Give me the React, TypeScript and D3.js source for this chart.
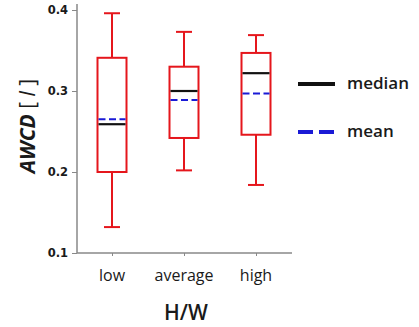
import React, { useEffect, useRef } from 'react';
import * as d3 from 'd3';

const categories = ['low', 'average', 'high'];
const whiskerLow = [0.132, 0.202, 0.184];
const q1 = [0.2, 0.242, 0.246];
const medians = [0.259, 0.3, 0.322];
const means = [0.265, 0.289, 0.297];
const q3 = [0.341, 0.33, 0.347];
const whiskerHigh = [0.396, 0.373, 0.369];
const yTicks = [0.1, 0.2, 0.3, 0.4];

const App = () => {
  const ref = useRef<SVGSVGElement>(null);

  useEffect(() => {
    const svg = d3.select(ref.current);
    svg.selectAll('*').remove();

    const left = 77, right = 292, top = 10, bottom = 253;

    const x = d3.scalePoint<string>()
      .domain(categories)
      .range([112, 256]);

    const y = d3.scaleLinear()
      .domain([0.1, 0.4])
      .range([bottom, top]);

    const boxW = 29, capW = 16;
    const red = '#e5161c';

    // axes
    const yAxis = svg.append('g')
      .attr('transform', `translate(${left},0)`)
      .call(d3.axisLeft(y).tickValues(yTicks).tickFormat(d3.format('.1f')).tickSize(5).tickSizeOuter(0).tickPadding(4));
    yAxis.select('.domain').attr('stroke', '#888').attr('stroke-width', 1.5).attr('d', `M0,${bottom}V4`);
    yAxis.selectAll('.tick line').attr('stroke', '#888');
    yAxis.selectAll('.tick text')
      .attr('font-family', 'DejaVu Sans')
      .attr('font-weight', 'bold')
      .attr('font-size', 11.5)
      .attr('fill', '#1a1a1a');

    const xAxis = svg.append('g')
      .attr('transform', `translate(0,${bottom})`)
      .call(d3.axisBottom(x).tickSize(3).tickSizeOuter(0).tickFormat(() => ''));
    xAxis.select('.domain').attr('stroke', '#888').attr('stroke-width', 1.5).attr('d', `M${left},0H${right}`);
    xAxis.selectAll('.tick line').attr('stroke', '#888');

    svg.append('g')
      .selectAll('text')
      .data(categories)
      .join('text')
      .attr('x', d => x(d)!)
      .attr('y', 281)
      .attr('text-anchor', 'middle')
      .attr('font-family', 'Open Sans')
      .attr('font-size', 16)
      .attr('fill', '#1a1a1a')
      .text(d => d);

    svg.append('text')
      .attr('x', 186)
      .attr('y', 320)
      .attr('text-anchor', 'middle')
      .attr('font-family', 'Open Sans')
      .attr('font-weight', 600)
      .attr('font-size', 21)
      .attr('fill', '#1a1a1a')
      .text('H/W');

    const yl = svg.append('text')
      .attr('transform', 'translate(35,126) rotate(-90)')
      .attr('text-anchor', 'middle')
      .attr('font-family', 'Open Sans')
      .attr('font-size', 21)
      .attr('fill', '#1a1a1a');
    yl.append('tspan').attr('font-style', 'italic').attr('font-weight', 'bold').text('AWCD');
    yl.append('tspan').text(' [ ');
    yl.append('tspan').attr('font-style', 'italic').text('l');
    yl.append('tspan').text(' ]');

    // boxes
    const g = svg.append('g');
    categories.forEach((c, i) => {
      const cx = x(c)!;
      g.append('line')
        .attr('x1', cx).attr('x2', cx)
        .attr('y1', y(whiskerHigh[i])).attr('y2', y(q3[i]))
        .attr('stroke', red).attr('stroke-width', 2);
      g.append('line')
        .attr('x1', cx).attr('x2', cx)
        .attr('y1', y(q1[i])).attr('y2', y(whiskerLow[i]))
        .attr('stroke', red).attr('stroke-width', 2);
      [whiskerHigh[i], whiskerLow[i]].forEach(v => {
        g.append('line')
          .attr('x1', cx - capW / 2).attr('x2', cx + capW / 2)
          .attr('y1', y(v)).attr('y2', y(v))
          .attr('stroke', red).attr('stroke-width', 2);
      });
      g.append('rect')
        .attr('x', cx - boxW / 2)
        .attr('y', y(q3[i]))
        .attr('width', boxW)
        .attr('height', y(q1[i]) - y(q3[i]))
        .attr('fill', 'none')
        .attr('stroke', red)
        .attr('stroke-width', 2);
      g.append('line')
        .attr('x1', cx - boxW / 2 + 1).attr('x2', cx + boxW / 2 - 1)
        .attr('y1', y(medians[i])).attr('y2', y(medians[i]))
        .attr('stroke', '#111').attr('stroke-width', 2.2);
      g.append('line')
        .attr('x1', cx - boxW / 2 + 1).attr('x2', cx + boxW / 2 - 1)
        .attr('y1', y(means[i])).attr('y2', y(means[i]))
        .attr('stroke', '#1a1ad6').attr('stroke-width', 2)
        .attr('stroke-dasharray', '7,3.5');
    });

    // legend
    const legend = svg.append('g');
    const items = [
      { label: 'median', color: '#111', dash: null, yy: 84 },
      { label: 'mean', color: '#1a1ad6', dash: '15,6', yy: 132 },
    ];
    items.forEach(it => {
      legend.append('line')
        .attr('x1', 298).attr('x2', 335)
        .attr('y1', it.yy).attr('y2', it.yy)
        .attr('stroke', it.color)
        .attr('stroke-width', 4)
        .attr('stroke-dasharray', it.dash);
      legend.append('text')
        .attr('x', 347)
        .attr('y', it.yy + 5)
        .attr('font-family', 'Open Sans')
        .attr('font-weight', 600)
        .attr('font-size', 17)
        .attr('fill', '#1a1a1a')
        .text(it.label);
    });
  }, []);

  return (
    <svg ref={ref} width={419} height={327}
      style={{ position: 'absolute', left: 0, top: 0, background: '#fff' }} />
  );
};

export default App;
